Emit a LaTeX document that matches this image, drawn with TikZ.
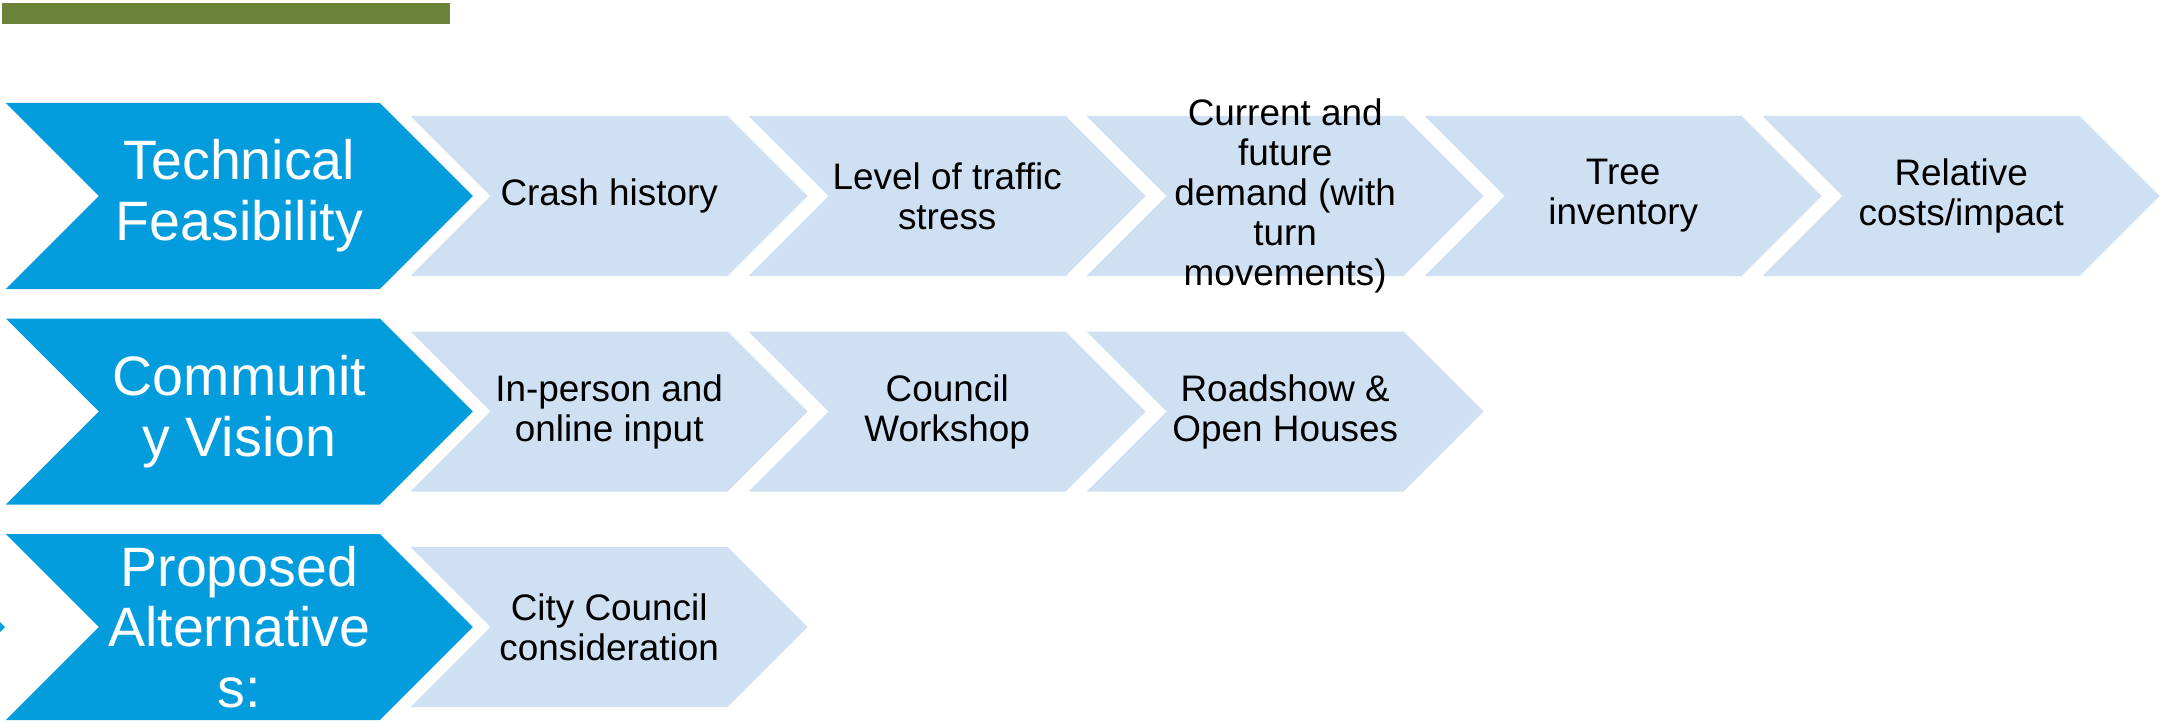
\documentclass[tikz,border=0pt]{standalone}
\usepackage{fontspec}
\setmainfont{Liberation Sans}
\usetikzlibrary{shapes.symbols}

\definecolor{stepblue}{HTML}{039DDE}
\definecolor{steplight}{HTML}{CFE0F3}
\definecolor{bargreen}{HTML}{6B8238}

\tikzset{
  headarrow/.style={shape=signal, signal from=west, signal to=east,
    signal pointer angle=90, fill=stepblue, inner sep=0pt,
    minimum width=4.67cm, minimum height=1.86cm,
    text=white, align=center, font=\fontsize{15.8}{17.3}\selectfont},
  itemarrow/.style={shape=signal, signal from=west, signal to=east,
    signal pointer angle=90, fill=steplight, inner sep=0pt,
    minimum width=3.97cm, minimum height=1.60cm,
    text=black, align=center, font=\fontsize{10.5}{11.4}\selectfont},
  itemtext/.style={align=center, text=black, inner sep=0pt,
    font=\fontsize{10.5}{11.4}\selectfont},
}

\begin{document}
\begin{tikzpicture}
  \useasboundingbox (0,0) rectangle (21.6,-7.22);
  \fill[bargreen] (0.02,-0.03) rectangle (4.50,-0.24);

  % row 1
  \node[headarrow] (tf) at (2.394,-1.96) {Technical\\Feasibility};
  \node[itemarrow] (crash) at (6.092,-1.96) {Crash history};
  \node[itemarrow] (lts) at (9.472,-1.96) {Level of traffic\\stress};
  \node[itemarrow] (demand) at (12.852,-1.96) {};
  \node[itemtext] (demandtext) at (demand.center) {Current and\\future\\demand (with\\turn\\movements)};
  \node[itemarrow] (trees) at (16.232,-1.96) {Tree\\inventory};
  \node[itemarrow] (costs) at (19.612,-1.96) {Relative\\costs/impact};

  % row 2
  \node[headarrow] (cv) at (2.394,-4.115) {Communit\\y Vision};
  \node[itemarrow] (input) at (6.092,-4.115) {In-person and\\online input};
  \node[itemarrow] (workshop) at (9.472,-4.115) {Council\\Workshop};
  \node[itemarrow] (roadshow) at (12.852,-4.115) {Roadshow \&\\Open Houses};

  % row 3
  \node[headarrow] (pa) at (2.394,-6.27) {Proposed\\Alternative\\s:};
  \node[itemarrow] (council) at (6.092,-6.27) {City Council\\consideration};
  \fill[stepblue] (0,-6.22) -- (0.05,-6.27) -- (0,-6.32) -- cycle;
\end{tikzpicture}
\end{document}
